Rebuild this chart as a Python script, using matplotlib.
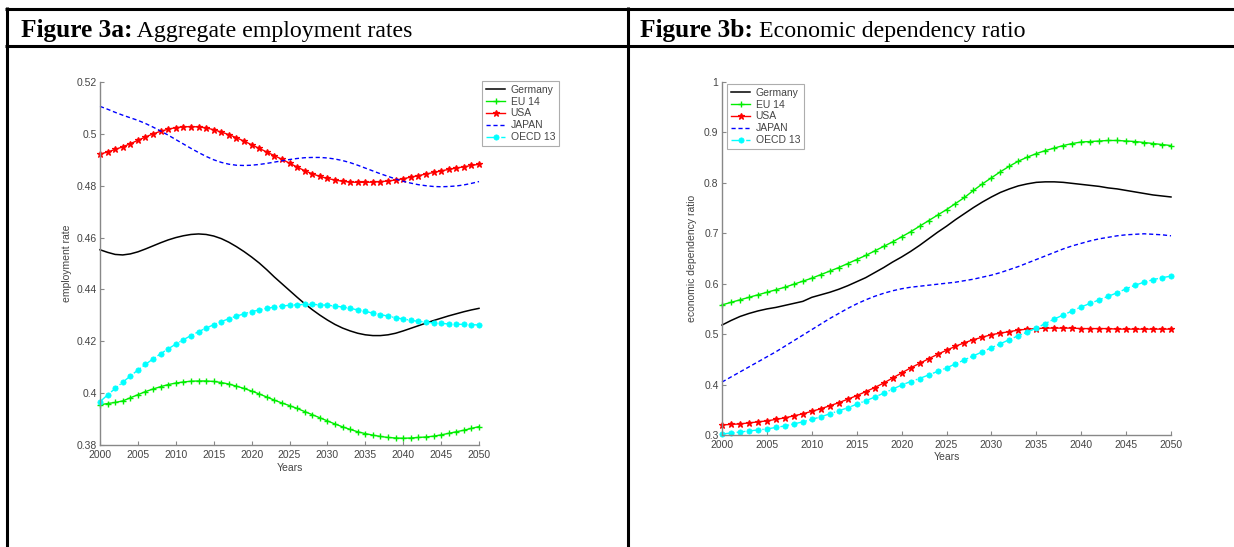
import matplotlib
matplotlib.use("Agg")
import matplotlib.pyplot as plt
from matplotlib.lines import Line2D

# ---------------- data ----------------
years = list(range(2000, 2051))
series_names = ["Germany", "EU 14", "USA", "JAPAN", "OECD 13"]

emp_germany = [.4553, .4543, .4535, .4533, .4537, .4545, .4556, .4568, .4580, .4591,
               .4600, .4607, .4612, .4614, .4612, .4606, .4596, .4582, .4565, .4546,
               .4525, .4502, .4476, .4448, .4422, .4396, .4370, .4345, .4322, .4301,
               .4282, .4265, .4251, .4240, .4231, .4225, .4222, .4222, .4225, .4231,
               .4240, .4250, .4260, .4270, .4280, .4289, .4298, .4306, .4314, .4321, .4327]
emp_eu14 = [.3955, .3960, .3964, .3970, .3982, .3994, .4006, .4016, .4025, .4033,
            .4039, .4043, .4046, .4047, .4047, .4045, .4041, .4035, .4027, .4018,
            .4008, .3997, .3985, .3973, .3962, .3952, .3941, .3929, .3917, .3905,
            .3893, .3881, .3870, .3860, .3851, .3844, .3838, .3833, .3829, .3827,
            .3826, .3827, .3829, .3831, .3834, .3839, .3845, .3851, .3857, .3864, .3871]
emp_usa = [.4922, .4930, .4940, .4950, .4962, .4975, .4988, .5000, .5010, .5018,
           .5024, .5027, .5028, .5027, .5023, .5016, .5007, .4997, .4985, .4972,
           .4958, .4944, .4930, .4916, .4902, .4887, .4872, .4858, .4846, .4836,
           .4828, .4822, .4817, .4814, .4813, .4813, .4814, .4816, .4818, .4822,
           .4827, .4833, .4839, .4845, .4851, .4857, .4863, .4868, .4873, .4878, .4883]
emp_japan = [.5106, .5095, .5083, .5072, .5062, .5052, .5040, .5026, .5011, .4995,
             .4978, .4961, .4944, .4928, .4913, .4900, .4890, .4883, .4879, .4878,
             .4879, .4882, .4886, .4891, .4896, .4901, .4905, .4908, .4909, .4909,
             .4907, .4903, .4897, .4889, .4879, .4868, .4857, .4846, .4836, .4826,
             .4817, .4810, .4804, .4800, .4797, .4796, .4797, .4799, .4803, .4809, .4816]
emp_oecd13 = [.3967, .3993, .4018, .4042, .4066, .4089, .4111, .4132, .4152, .4171,
              .4189, .4206, .4222, .4237, .4251, .4264, .4276, .4287, .4297, .4306,
              .4314, .4321, .4327, .4332, .4336, .4339, .4341, .4342, .4342, .4341,
              .4339, .4336, .4332, .4327, .4321, .4315, .4309, .4303, .4297, .4291,
              .4286, .4281, .4277, .4274, .4271, .4269, .4267, .4266, .4265, .4264, .4263]

dep_germany = [.518, .527, .535, .541, .546, .550, .553, .557, .561, .565,
               .573, .578, .583, .589, .596, .604, .612, .622, .632, .643,
               .653, .664, .676, .689, .702, .714, .727, .739, .751, .762,
               .772, .781, .788, .794, .798, .801, .802, .802, .801, .799,
               .797, .795, .793, .790, .788, .785, .782, .779, .776, .774, .772]
dep_eu14 = [.558, .563, .568, .573, .578, .583, .588, .593, .599, .605,
            .611, .618, .625, .632, .640, .648, .656, .665, .674, .683,
            .693, .703, .714, .725, .736, .747, .759, .771, .785, .798,
            .810, .822, .833, .843, .851, .858, .864, .869, .874, .878,
            .881, .882, .883, .884, .884, .883, .882, .880, .878, .876, .874]
dep_usa = [.320, .321, .322, .324, .326, .328, .331, .334, .338, .342,
           .347, .352, .358, .364, .371, .378, .386, .394, .403, .413,
           .423, .433, .442, .451, .460, .468, .476, .483, .489, .494,
           .499, .502, .505, .508, .510, .511, .512, .512, .512, .512,
           .511, .511, .511, .511, .510, .510, .510, .510, .510, .510, .510]
dep_japan = [.405, .415, .425, .435, .445, .455, .465, .476, .487, .498,
             .509, .520, .531, .541, .551, .560, .568, .575, .581, .586,
             .590, .593, .595, .597, .599, .601, .603, .606, .609, .613,
             .617, .622, .628, .634, .641, .648, .655, .662, .669, .675,
             .680, .685, .689, .692, .695, .697, .698, .699, .698, .697, .695]
dep_oecd13 = [.302, .304, .306, .308, .310, .312, .315, .318, .322, .326,
              .331, .336, .342, .348, .354, .361, .368, .375, .383, .391,
              .399, .406, .412, .419, .426, .433, .441, .449, .457, .465,
              .473, .481, .489, .497, .504, .512, .521, .530, .538, .546,
              .554, .561, .568, .575, .582, .590, .597, .603, .608, .612, .615]

emp_yticks = [0.38, 0.40, 0.42, 0.44, 0.46, 0.48, 0.50, 0.52]
emp_yticklabels = ["0.38", "0.4", "0.42", "0.44", "0.46", "0.48", "0.5", "0.52"]
dep_yticks = [0.3, 0.4, 0.5, 0.6, 0.7, 0.8, 0.9, 1.0]
dep_yticklabels = ["0.3", "0.4", "0.5", "0.6", "0.7", "0.8", "0.9", "1"]
xticks = [2000, 2005, 2010, 2015, 2020, 2025, 2030, 2035, 2040, 2045, 2050]

# ---------------- figure ----------------
W, H = 1234, 547
fig = plt.figure(figsize=(W / 100, H / 100), dpi=100)
fig.patch.set_facecolor("white")


def fx(px):
    return px / W


def fy(py):
    return 1 - py / H


# table lines
lw_tab = 2.2
for (x0, y0, x1, y1) in [(5, 8.5, W, 8.5), (5, 45.5, W, 45.5),
                         (6.5, 7, 6.5, H), (627.5, 7, 627.5, H)]:
    fig.add_artist(Line2D([fx(x0), fx(x1)], [fy(y0), fy(y1)], color="black",
                          lw=lw_tab, transform=fig.transFigure, solid_capstyle="butt"))

# headers
renderer = fig.canvas.get_renderer()
serif = ["Liberation Serif", "DejaVu Serif"]
for x0, bold, rest in [(21, "Figure 3a:", " Aggregate employment rates"),
                       (640, "Figure 3b:", " Economic dependency ratio")]:
    t = fig.text(fx(x0), fy(36.5), bold, fontsize=18.3, fontweight="bold",
                 family=serif, va="baseline", ha="left")
    bb = t.get_window_extent(renderer=renderer)
    fig.text(bb.x1 / W, fy(36.5), rest, fontsize=17.2, family=serif,
             va="baseline", ha="left")

styles = [
    dict(color="black", ls="-", lw=1.1, marker=None),
    dict(color="#00ee00", ls="-", lw=1.0, marker="+", ms=4.5, mew=1.0),
    dict(color="#ff0000", ls="-", lw=1.0, marker="*", ms=4.5, mew=0.9),
    dict(color="#0000ff", ls=(0, (3, 2)), lw=1.0, marker=None),
    dict(color="#00ffff", ls="-.", lw=1.0, marker="o", ms=3.8, mew=0.5,
         mfc="#00ffff"),
]

sans = ["Liberation Sans", "DejaVu Sans"]
tickcol = "#444444"
small = 7.5


def setup_axes(ax, ylim, yticks, yticklabels, ylabel, ylabel_x, xlabel_y):
    ax.set_xlim(2000, 2050)
    ax.set_ylim(*ylim)
    ax.set_xticks(xticks)
    ax.set_xticklabels([str(x) for x in xticks])
    ax.set_yticks(yticks)
    ax.set_yticklabels(yticklabels)
    for s in ["top", "right"]:
        ax.spines[s].set_visible(False)
    for s in ["left", "bottom"]:
        ax.spines[s].set_color("#888888")
        ax.spines[s].set_linewidth(1.0)
    ax.tick_params(direction="in", length=3, width=0.8, colors="#888888",
                   labelcolor=tickcol, labelsize=small, pad=2.5)
    ax.tick_params(axis="x", pad=3.5)
    for lab in ax.get_xticklabels() + ax.get_yticklabels():
        lab.set_family(sans)
    ax.set_ylabel(ylabel, fontsize=small, family=sans, color=tickcol)
    ax.yaxis.set_label_coords(ylabel_x, 0.5)
    ax.set_xlabel("Years", fontsize=small, family=sans, color=tickcol)
    ax.xaxis.set_label_coords(0.5, xlabel_y)
    ax.patch.set_alpha(0)


def draw(ax, data):
    for name, vals, st in zip(series_names, data, styles):
        ax.plot(years, vals, label=name, clip_on=False, **st)


leg_kw = dict(loc="upper left", bbox_transform=fig.transFigure,
              frameon=True, fancybox=False, edgecolor="#999999",
              handlelength=1.9, handletextpad=0.5, labelspacing=0.18,
              borderpad=0.35, borderaxespad=0, prop={"family": sans, "size": small})

# Figure 3a
ax1 = fig.add_axes([fx(100), fy(445), 379 / W, 363 / H])
draw(ax1, [emp_germany, emp_eu14, emp_usa, emp_japan, emp_oecd13])
setup_axes(ax1, (0.38, 0.52), emp_yticks, emp_yticklabels, "employment rate",
           -0.074, -0.05)
l1 = ax1.legend(bbox_to_anchor=(fx(482), fy(81)), **leg_kw)
l1.get_frame().set_linewidth(0.8)
for t in l1.get_texts():
    t.set_color(tickcol)

# Figure 3b
ax2 = fig.add_axes([fx(722), fy(435), 449 / W, 353 / H])
draw(ax2, [dep_germany, dep_eu14, dep_usa, dep_japan, dep_oecd13])
setup_axes(ax2, (0.3, 1.0), dep_yticks, dep_yticklabels,
           "economic dependency ratio", -0.056, -0.048)
l2 = ax2.legend(bbox_to_anchor=(fx(727), fy(84)), **leg_kw)
l2.get_frame().set_linewidth(0.8)
for t in l2.get_texts():
    t.set_color(tickcol)

fig.savefig("out.png", dpi=100, facecolor="white")
